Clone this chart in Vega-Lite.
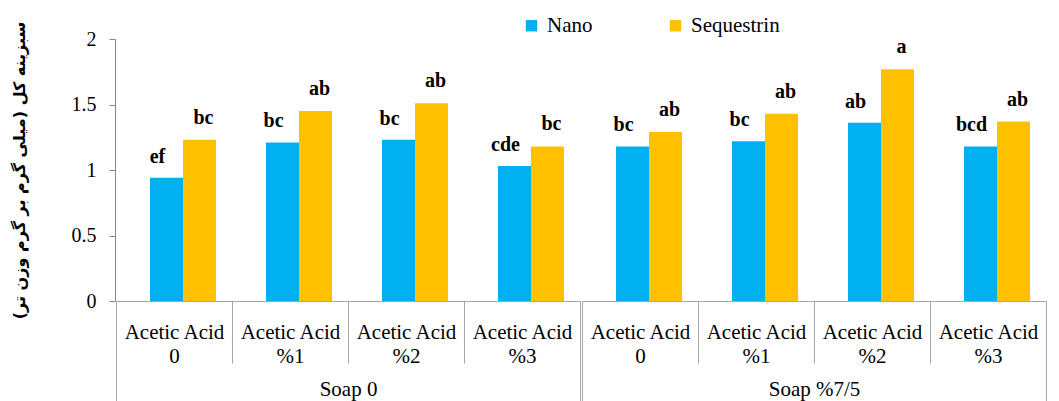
{
  "$schema": "https://vega.github.io/schema/vega-lite/v6.json",
  "background": "white",
  "padding": {"left": 10, "top": 15, "right": 5, "bottom": 0},
  "data": {"values": [
    {"soap": "Soap 0", "acid": "Acetic Acid|0", "type": "Nano", "value": 0.94, "label": "ef"},
    {"soap": "Soap 0", "acid": "Acetic Acid|0", "type": "Sequestrin", "value": 1.23, "label": "bc"},
    {"soap": "Soap 0", "acid": "Acetic Acid|%1", "type": "Nano", "value": 1.21, "label": "bc"},
    {"soap": "Soap 0", "acid": "Acetic Acid|%1", "type": "Sequestrin", "value": 1.45, "label": "ab"},
    {"soap": "Soap 0", "acid": "Acetic Acid|%2", "type": "Nano", "value": 1.23, "label": "bc"},
    {"soap": "Soap 0", "acid": "Acetic Acid|%2", "type": "Sequestrin", "value": 1.51, "label": "ab"},
    {"soap": "Soap 0", "acid": "Acetic Acid|%3", "type": "Nano", "value": 1.03, "label": "cde"},
    {"soap": "Soap 0", "acid": "Acetic Acid|%3", "type": "Sequestrin", "value": 1.18, "label": "bc"},
    {"soap": "Soap %7/5", "acid": "Acetic Acid|0", "type": "Nano", "value": 1.18, "label": "bc"},
    {"soap": "Soap %7/5", "acid": "Acetic Acid|0", "type": "Sequestrin", "value": 1.29, "label": "ab"},
    {"soap": "Soap %7/5", "acid": "Acetic Acid|%1", "type": "Nano", "value": 1.22, "label": "bc"},
    {"soap": "Soap %7/5", "acid": "Acetic Acid|%1", "type": "Sequestrin", "value": 1.43, "label": "ab"},
    {"soap": "Soap %7/5", "acid": "Acetic Acid|%2", "type": "Nano", "value": 1.36, "label": "ab"},
    {"soap": "Soap %7/5", "acid": "Acetic Acid|%2", "type": "Sequestrin", "value": 1.77, "label": "a"},
    {"soap": "Soap %7/5", "acid": "Acetic Acid|%3", "type": "Nano", "value": 1.18, "label": "bcd"},
    {"soap": "Soap %7/5", "acid": "Acetic Acid|%3", "type": "Sequestrin", "value": 1.37, "label": "ab"}
  ]},
  "facet": {"column": {"field": "soap", "type": "nominal", "sort": ["Soap 0", "Soap %7/5"], "header": {"labels": false, "title": null}}},
  "spacing": 0,
  "resolve": {"scale": {"x": "independent", "xOffset": "independent"}},
  "spec": {
    "width": 464,
    "height": 262,
    "layer": [
      {
        "encoding": {
          "x": {"field": "acid", "type": "nominal", "sort": ["Acetic Acid|0", "Acetic Acid|%1", "Acetic Acid|%2", "Acetic Acid|%3"],
            "scale": {"padding": 0},
            "axis": {"title": null, "labelExpr": "split(datum.label, '|')", "labelAngle": 0, "labelFont": "Liberation Serif", "labelFontSize": 21, "labelColor": "black", "labelLineHeight": 24, "tickBand": "extent", "tickSize": 62, "tickColor": "#a6a6a6", "domainColor": "#a6a6a6", "labelPadding": -42}},
          "xOffset": {"field": "type", "type": "nominal", "sort": ["Nano", "Sequestrin"], "scale": {"paddingInner": 0, "paddingOuter": 0.758, "align": 0.68}},
          "y": {"field": "value", "type": "quantitative", "scale": {"domain": [0, 2]},
            "axis": {"values": [0, 0.5, 1, 1.5, 2], "format": "~g", "grid": false, "title": "سبزینه کل (میلی گرم بر گرم وزن تر)", "titleFont": "DejaVu Sans", "titleFontWeight": "bold", "titleFontSize": 16, "titleColor": "black", "titlePadding": 44, "labelFont": "Liberation Serif", "labelFontSize": 20, "labelColor": "black", "tickSize": 6, "tickColor": "#868686", "domainColor": "#868686", "labelPadding": 13}}
        },
        "layer": [
          {
            "mark": {"type": "bar"},
            "encoding": {
              "color": {"field": "type", "type": "nominal", "sort": ["Nano", "Sequestrin"],
                "scale": {"domain": ["Nano", "Sequestrin"], "range": ["#00B0F0", "#FFC000"]},
                "legend": {"title": null, "orient": "none", "legendX": 405, "legendY": -24, "direction": "horizontal", "symbolType": "square", "symbolSize": 130, "symbolStrokeWidth": 0, "labelFont": "Liberation Serif", "labelFontSize": 21, "labelColor": "black", "columnPadding": 72, "labelOffset": 5}}
            }
          },
          {
            "transform": [{"filter": "datum.type === 'Nano'"}],
            "mark": {"type": "text", "font": "Liberation Serif", "fontWeight": "bold", "fontSize": 20, "color": "black", "baseline": "alphabetic", "dy": -15, "dx": -9},
            "encoding": {"text": {"field": "label"}}
          },
          {
            "transform": [{"filter": "datum.type === 'Sequestrin'"}],
            "mark": {"type": "text", "font": "Liberation Serif", "fontWeight": "bold", "fontSize": 20, "color": "black", "baseline": "alphabetic", "dy": -16, "dx": 4},
            "encoding": {"text": {"field": "label"}}
          }
        ]
      },
      {
        "mark": {"type": "bar", "opacity": 0},
        "encoding": {
          "x": {"field": "soap", "type": "nominal", "scale": {"type": "band", "padding": 0},
            "axis": {"orient": "bottom", "title": null, "domain": false, "labelAngle": 0, "labelFont": "Liberation Serif", "labelFontSize": 21, "labelColor": "black", "tickBand": "extent", "tickSize": 100, "tickColor": "#a6a6a6", "labelPadding": -23}}
        }
      }
    ],
    "resolve": {"scale": {"x": "independent", "xOffset": "independent"}}
  },
  "config": {"view": {"stroke": null}}
}
